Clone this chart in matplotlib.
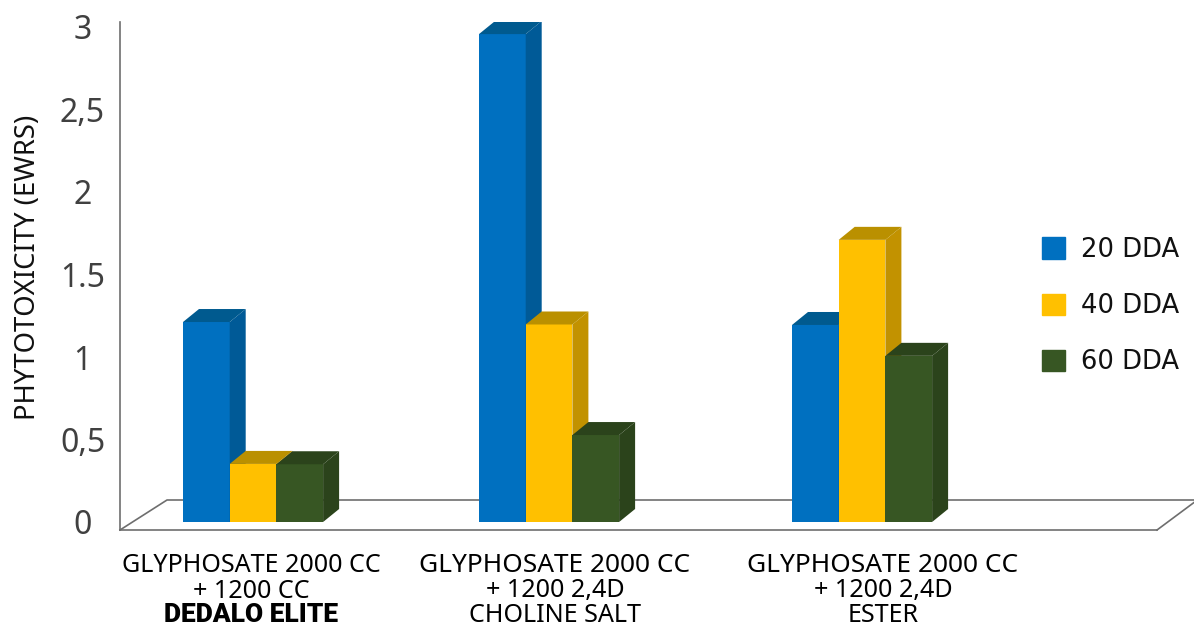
import matplotlib
matplotlib.use('Agg')
import matplotlib.pyplot as plt
from matplotlib.patches import Patch

plt.rcParams['font.family'] = ['Noto Sans', 'DejaVu Sans']

series = ['20 DDA', '40 DDA', '60 DDA']
v20 = [1.212, 2.957, 1.194]
v40 = [0.352, 1.197, 1.71]
v60 = [0.35, 0.527, 1.007]
ticks = [0, 0.5, 1, 1.5, 2, 2.5, 3]
tick_labels = ['0', '0,5', '1', '1.5', '2', '2,5', '3']
cat_lines = [
    ['GLYPHOSATE 2000 CC', '+ 1200 CC', 'DEDALO ELITE'],
    ['GLYPHOSATE 2000 CC', '+ 1200 2,4D', 'CHOLINE SALT'],
    ['GLYPHOSATE 2000 CC', '+ 1200 2,4D', 'ESTER'],
]

W, H = 1194, 626
front = ['#0070C0', '#FFC000', '#375623']
side = ['#005A97', '#C29200', '#2B431B']
top = ['#005A8F', '#BA9000', '#2B431B']

# x data is in pixels, y data in value units
left, right, y_bottom, y_top = 120, 1157, 530, 22
px_per_unit = 165
y_zero = 522
group_x = [183, 479, 792]
label_x = [251, 555, 883]
bar_w = 46.7
dx = 16
dy = 13 / px_per_unit

fig = plt.figure(figsize=(W / 100, H / 100), dpi=100)
ax = fig.add_axes([left / W, 1 - y_bottom / H, (right - left) / W, (y_bottom - y_top) / H])
ax.set_xlim(left, right)
ax.set_ylim(-(y_bottom - y_zero) / px_per_unit, (y_zero - y_top) / px_per_unit)

for s in ['top', 'right']:
    ax.spines[s].set_visible(False)
for s in ['left', 'bottom']:
    ax.spines[s].set_color('#6e6e6e')
    ax.spines[s].set_linewidth(1.2)

# floor
y0 = ax.get_ylim()[0]
back = y0 + 30 / px_per_unit
ax.plot([left, 167, 1196], [y0, back, back], color='#6e6e6e', lw=1.2, clip_on=False, zorder=1)
ax.plot([right, 1196], [y0, y0 + 29 / px_per_unit], color='#6e6e6e', lw=1.2, clip_on=False, zorder=1)

for g, x0 in enumerate(group_x):
    for i, vals in enumerate([v20, v40, v60]):
        x = x0 + i * bar_w
        v = vals[g]
        ax.bar(x, v, width=bar_w, align='edge', color=front[i], zorder=2)
        ax.fill([x + bar_w, x + bar_w + dx, x + bar_w + dx, x + bar_w],
                [0, dy, v + dy, v], color=side[i], lw=0, zorder=2)
        ax.fill([x, x + dx, x + bar_w + dx, x + bar_w],
                [v, v + dy, v + dy, v], color=top[i], lw=0, zorder=2)

ax.set_xticks([])
ax.set_yticks(ticks)
ax.set_yticklabels(tick_labels, fontsize=23, color='#404040', ha='center')
ax.tick_params(axis='y', length=0, pad=27)
ax.set_ylabel('PHYTOTOXICITY (EWRS)', fontsize=19.8, color='#111111')
ax.yaxis.set_label_coords((42 - left) / (right - left), (y_bottom - 267) / (y_bottom - y_top))

line_y = [566, 591, 615]
for g, lines in enumerate(cat_lines):
    for j, line in enumerate(lines):
        bold = g == 0 and j == 2
        size = 18.1
        if bold:
            size = 19
        elif g > 0 and j == 0:
            size = 18.9
        ax.annotate(line, xy=(label_x[g], 1 - (line_y[j] - y_top) / (y_bottom - y_top)),
                    xycoords=('data', 'axes fraction'), ha='center', va='center',
                    fontsize=size, color='black',
                    family='Roboto' if bold else 'Noto Sans',
                    fontweight='black' if bold else 'normal',
                    annotation_clip=False)

handles = [Patch(color=c, label=s) for c, s in zip(front, series)]
fig.legend(handles=handles, loc='upper left', bbox_to_anchor=(1042 / W, 1 - 237 / H),
           frameon=False, prop={'family': 'DejaVu Sans', 'size': 18.6},
           handlelength=0.9, handleheight=0.9, handletextpad=0.6, labelspacing=1.17,
           borderpad=0, borderaxespad=0, labelcolor='#111111')

fig.savefig('out.png', dpi=100)
